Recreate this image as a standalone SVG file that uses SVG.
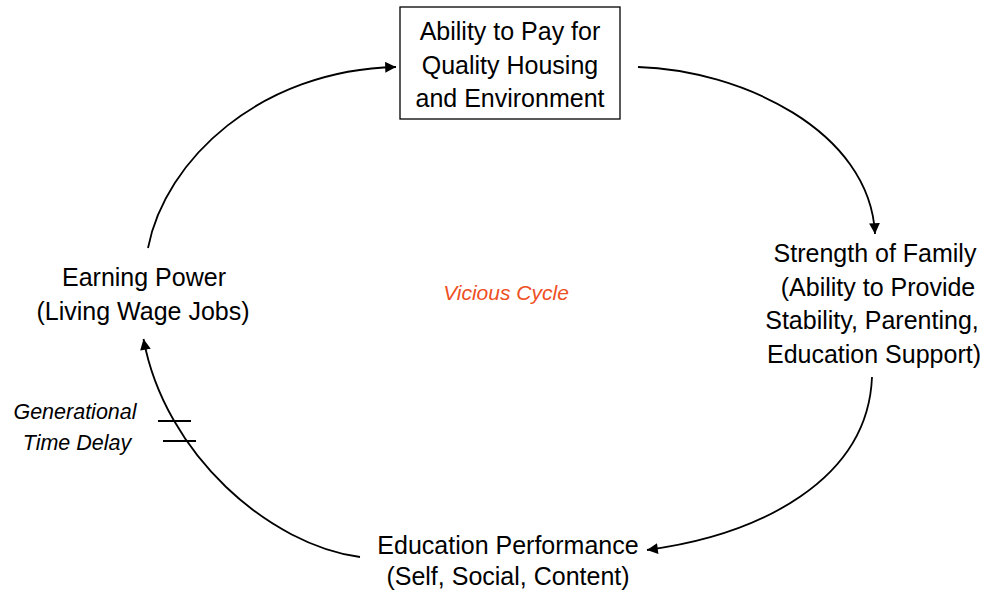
<svg xmlns="http://www.w3.org/2000/svg" width="989" height="592" viewBox="0 0 989 592">
<style>
.t{font-family:"Liberation Sans",Arial,sans-serif;font-size:25px;fill:#000;text-anchor:middle}
.i{font-family:"Liberation Sans",Arial,sans-serif;font-style:italic;text-anchor:middle}
.c{fill:none;stroke:#000;stroke-width:1.8}
</style>
<defs>
<marker id="ah" viewBox="0 0 10 10" refX="10" refY="5" markerWidth="6.5" markerHeight="6" markerUnits="strokeWidth" orient="auto">
<path d="M0,0 L10,5 L0,10 Z" fill="#000"/>
</marker>
</defs>
<rect width="989" height="592" fill="#fff"/>
<g id="connectors">
<path class="c" d="M148,248 C165,160 260,70 396,67" marker-end="url(#ah)"/>
<path class="c" d="M638,67 C740,70 870,130 875,234" marker-end="url(#ah)"/>
<path class="c" d="M872,377 C868,480 760,535 647,550" marker-end="url(#ah)"/>
<path class="c" d="M360,557 C270,545 165,455 143.5,339" marker-end="url(#ah)"/>
<line x1="158" y1="421" x2="191" y2="421" stroke="#000" stroke-width="2"/>
<line x1="163" y1="441" x2="196" y2="441" stroke="#000" stroke-width="2"/>
</g>
<g id="node-housing">
<rect x="400" y="7" width="220" height="112" fill="#fff" stroke="#000" stroke-width="1.3"/>
<text class="t" x="510" y="40">Ability to Pay for</text>
<text class="t" x="510" y="74">Quality Housing</text>
<text class="t" x="510" y="107">and Environment</text>
</g>
<g id="node-family">
<text class="t" x="875" y="262">Strength of Family</text>
<text class="t" x="878" y="296">(Ability to Provide</text>
<text class="t" x="872" y="329">Stability, Parenting,</text>
<text class="t" x="874" y="363">Education Support)</text>
</g>
<g id="node-education">
<text class="t" x="508" y="554">Education Performance</text>
<text class="t" x="508" y="585">(Self, Social, Content)</text>
</g>
<g id="node-earning">
<text class="t" x="144" y="286">Earning Power</text>
<text class="t" x="143" y="320">(Living Wage Jobs)</text>
</g>
<g id="label-vicious">
<text class="i" x="506" y="300" font-size="21" fill="#EE5024">Vicious Cycle</text>
</g>
<g id="label-delay">
<text class="i" x="75" y="419" font-size="21.5" fill="#000">Generational</text>
<text class="i" x="77" y="450" font-size="21.5" fill="#000">Time Delay</text>
</g>
</svg>
